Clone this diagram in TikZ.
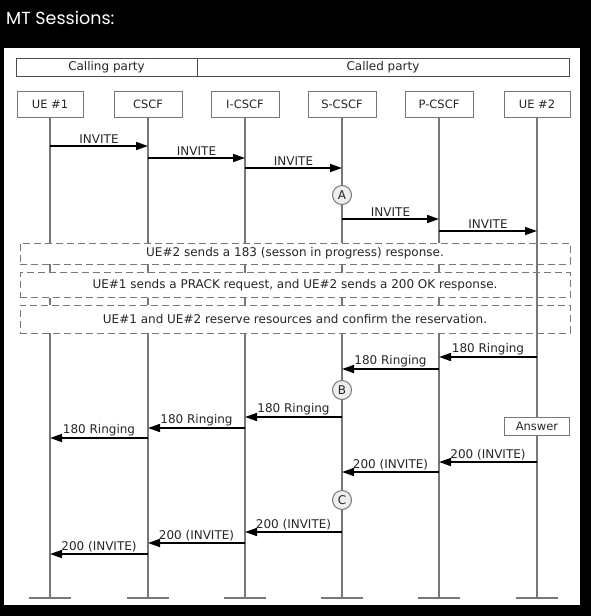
\documentclass[tikz,border=0pt]{standalone}
\usepackage{fontspec}
\setmainfont{DejaVu Sans}
\newfontfamily\titlefont{Poppins}
\usetikzlibrary{arrows.meta}
\definecolor{lgray}{HTML}{777777}
\definecolor{cfill}{HTML}{EEEEEE}
\begin{document}
\begin{tikzpicture}[x=1pt,y=-1pt,
  txt/.style={font=\fontsize{12}{13}\selectfont, text=black!85},
  hdr/.style={draw=black!70, line width=0.8pt, fill=white, inner sep=0pt, minimum height=18pt, txt},
  entity/.style={draw=lgray, line width=1pt, fill=white, inner sep=0pt, minimum height=26pt, minimum width=68pt, txt, font=\fontsize{11.5}{13}\selectfont},
  life/.style={draw=lgray, line width=1.4pt},
  foot/.style={draw=lgray, line width=1.8pt},
  msg/.style={draw=black, line width=1.6pt, -{Triangle[length=12pt,width=8pt]}},
  lbl/.style={midway, above, inner sep=0pt, yshift=1.5pt, txt},
  phase/.style={draw=lgray, line width=1pt, dash pattern=on 7pt off 4pt, fill=white, inner sep=0pt, minimum width=550pt, txt},
  stepmark/.style={circle, draw=lgray, line width=1pt, fill=cfill, inner sep=0pt, minimum size=19pt, txt},
  ansbox/.style={draw=lgray, line width=1pt, fill=white, inner sep=0pt, minimum width=65pt, minimum height=18pt, txt, font=\fontsize{11.5}{13}\selectfont}]
\useasboundingbox (0,0) rectangle (591,616);
\fill[black] (0,0) rectangle (591,616);
\fill[white] (4,48) rectangle (580,605);
\node[anchor=west, text=white, inner sep=0pt, font=\titlefont\fontsize{17.5}{20}\selectfont] (title) at (6,18) {MT Sessions:};
% header
\node[hdr, minimum width=181pt] (calling) at (106.5,67) {Calling party};
\node[hdr, minimum width=372pt] (called) at (383,67) {Called party};
% entities
\node[entity, minimum width=66pt] (ue1) at (50,104) {UE \#1};
\node[entity] (cscf) at (148,104) {CSCF};
\node[entity] (icscf) at (245,104) {I-CSCF};
\node[entity] (scscf) at (342,104) {S-CSCF};
\node[entity] (pcscf) at (439,104) {P-CSCF};
\node[entity, minimum width=66pt] (ue2) at (537,104) {UE \#2};
\foreach \n in {ue1,cscf,icscf,scscf,pcscf,ue2}{
  \coordinate (\n f) at (\n |- 0,598);
  \draw[life] (\n.south) -- (\n f);
  \draw[foot] ([xshift=-21pt]\n f) -- ([xshift=21pt]\n f);
}
% INVITE
\draw[msg] (ue1 |- 0,146) -- (cscf |- 0,146) node[lbl] {INVITE};
\draw[msg] (cscf |- 0,158) -- (icscf |- 0,158) node[lbl] {INVITE};
\draw[msg] (icscf |- 0,168) -- (scscf |- 0,168) node[lbl] {INVITE};
\node[stepmark] (A) at (scscf |- 0,195) {A};
\draw[msg] (scscf |- 0,219) -- (pcscf |- 0,219) node[lbl] {INVITE};
\draw[msg] (pcscf |- 0,231) -- (ue2 |- 0,231) node[lbl] {INVITE};
% phases
\node[phase, minimum height=21pt] (p1) at (295,253.5) {UE\#2 sends a 183 (sesson in progress) response.};
\node[phase, minimum height=25pt] (p2) at (295,285) {UE\#1 sends a PRACK request, and UE\#2 sends a 200 OK response.};
\node[phase, minimum height=28pt] (p3) at (295,319) {UE\#1 and UE\#2 reserve resources and confirm the reservation.};
\draw[life] (ue2 |- p1.north) -- (ue2 |- p3.south);
% 180 Ringing
\draw[msg] (ue2 |- 0,357) -- (pcscf |- 0,357) node[lbl] {180 Ringing};
\draw[msg] (pcscf |- 0,369) -- (scscf |- 0,369) node[lbl] {180 Ringing};
\node[stepmark] (B) at (scscf |- 0,390) {B};
\draw[msg] (scscf |- 0,417) -- (icscf |- 0,417) node[lbl] {180 Ringing};
\draw[msg] (icscf |- 0,428) -- (cscf |- 0,428) node[lbl] {180 Ringing};
\draw[msg] (cscf |- 0,438) -- (ue1 |- 0,438) node[lbl] {180 Ringing};
\node[ansbox] (ans) at (ue2 |- 0,426) {Answer};
% 200 INVITE
\draw[msg] (ue2 |- 0,462) -- (pcscf |- 0,462) node[lbl] {200 (INVITE)};
\draw[msg] (pcscf |- 0,472) -- (scscf |- 0,472) node[lbl] {200 (INVITE)};
\node[stepmark] (C) at (scscf |- 0,500) {C};
\draw[msg] (scscf |- 0,532) -- (icscf |- 0,532) node[lbl] {200 (INVITE)};
\draw[msg] (icscf |- 0,543) -- (cscf |- 0,543) node[lbl] {200 (INVITE)};
\draw[msg] (cscf |- 0,554) -- (ue1 |- 0,554) node[lbl] {200 (INVITE)};
\end{tikzpicture}
\end{document}
